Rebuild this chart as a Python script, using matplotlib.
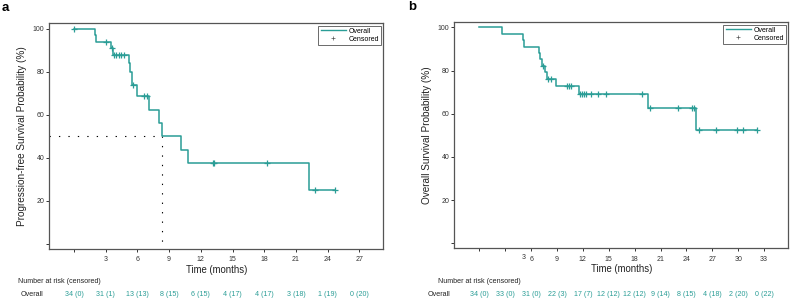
import numpy as np
import matplotlib
matplotlib.use("Agg")
import matplotlib.pyplot as plt
from matplotlib.lines import Line2D
from matplotlib.transforms import blended_transform_factory

plt.rcParams['font.family'] = ['Liberation Sans', 'DejaVu Sans']

TEAL = '#2a9d96'

# ---------------- Panel a: progression-free survival ----------------
a_times = [0, 1.96, 2.05, 3.53, 3.65, 5.23, 5.30, 5.45, 5.50, 5.93, 7.13, 8.07, 8.36, 10.12, 10.80, 22.20]
a_surv = [100, 97.0, 94.0, 90.9, 87.7, 84.0, 80.0, 77.0, 73.9, 68.8, 62.3, 56.4, 50.0, 43.7, 37.5, 25.0]
a_end = 24.7
a_cens = [0.0, 3.0, 3.62, 3.75, 3.95, 4.30, 4.45, 4.70, 5.55, 6.62, 6.88, 13.15, 13.25, 18.3, 22.8, 24.7]
a_median = 8.36
a_risk_times = [0, 3, 6, 9, 12, 15, 18, 21, 24, 27]
a_risk = ["34 (0)", "31 (1)", "13 (13)", "8 (15)", "6 (15)", "4 (17)", "4 (17)", "3 (18)", "1 (19)", "0 (20)"]
a_xticks = [0, 3, 6, 9, 12, 15, 18, 21, 24, 27]
a_xticklabels = ["", "3", "6", "9", "12", "15", "18", "21", "24", "27"]

# ---------------- Panel b: overall survival ----------------
b_times = [0, 2.59, 5.10, 5.20, 6.91, 7.00, 7.30, 7.60, 7.87, 8.85, 11.58, 19.60, 25.13]
b_surv = [100, 97.06, 94.12, 91.18, 88.24, 85.29, 82.35, 79.30, 76.25, 72.93, 69.09, 62.81, 52.34]
b_end = 32.2
b_cens = [7.41, 7.92, 8.27, 10.16, 10.42, 10.65, 11.66, 11.93, 12.16, 12.36, 12.90, 13.78, 14.67,
          18.84, 19.77, 22.97, 24.67, 24.86, 25.48, 27.38, 29.80, 30.57, 32.20]
b_risk_times = [0, 3, 6, 9, 12, 15, 18, 21, 24, 27, 30, 33]
b_risk = ["34 (0)", "33 (0)", "31 (0)", "22 (3)", "17 (7)", "12 (12)", "12 (12)", "9 (14)",
          "8 (15)", "4 (18)", "2 (20)", "0 (22)"]
b_xticks = [0, 3, 6, 9, 12, 15, 18, 21, 24, 27, 30, 33]
b_xticklabels = ["", "", "6", "9", "12", "15", "18", "21", "24", "27", "30", "33"]

yticks = [0, 20, 40, 60, 80, 100]
yticklabels = ["", "20", "40", "60", "80", "100"]

W, H = 790, 300
fig = plt.figure(figsize=(W / 100, H / 100), dpi=100)

TXT = '#222222'
TICK_FS = 5.0
RISK_FS = 5.1
LABEL_FS = 6.6


def fx(px):
    return px / W


def fy(py):
    return 1 - py / H


def step_level(times, surv, t):
    idx = np.searchsorted(np.asarray(times), t, side='right') - 1
    return np.asarray(surv)[idx]


def draw_panel(rect, times, surv, end, cens, xlim, ylim, xticks, xticklabels, ylabel):
    ax = fig.add_axes(rect)
    tt = list(times) + [end]
    ss = list(surv) + [surv[-1]]
    ax.step(tt, ss, where='post', color=TEAL, lw=1.1, zorder=3)
    cs = [step_level(times, surv, t) for t in cens]
    ax.plot(cens, cs, linestyle='none', marker='+', color=TEAL, ms=5, mew=0.9, zorder=4)
    ax.set_xlim(*xlim)
    ax.set_ylim(*ylim)
    ax.set_xticks(xticks)
    ax.set_xticklabels(xticklabels)
    ax.set_yticks(yticks)
    ax.set_yticklabels(yticklabels)
    ax.tick_params(axis='both', labelsize=TICK_FS, length=2.2, width=0.7, colors='#333333')
    ax.tick_params(axis='x', pad=3.0)
    ax.tick_params(axis='y', pad=1.5)
    for sp in ax.spines.values():
        sp.set_color('#555555')
        sp.set_linewidth(0.9)
    ax.set_ylabel(ylabel, fontsize=7.2, color=TXT, va='center')
    ax.yaxis.set_label_coords(-0.082, 0.5)
    ax.set_xlabel("Time (months)", fontsize=LABEL_FS + 0.3, color=TXT, va='center')
    ax.xaxis.set_label_coords(0.5, -0.093)
    handles = [Line2D([], [], color=TEAL, lw=1.0),
               Line2D([], [], color='#555555', lw=0, marker='+', ms=2.5, mew=0.5)]
    leg = ax.legend(handles, ["Overall", "Censored"], loc='upper right', fontsize=5.0,
                    frameon=True, fancybox=False, edgecolor='#444444', handlelength=3.6,
                    borderpad=0.3, labelspacing=0.1, handletextpad=0.4,
                    borderaxespad=0.35)
    leg.get_frame().set_linewidth(0.7)
    return ax


ax_a = draw_panel([fx(49.3), fy(249), fx(383.3) - fx(49.3), fy(23.3) - fy(249)],
                  a_times, a_surv, a_end, a_cens, (-2.34, 29.27), (-2.32, 102.5),
                  a_xticks, a_xticklabels, "Progression-free Survival Probability (%)")
ax_b = draw_panel([fx(454.3), fy(248.3), fx(788.3) - fx(454.3), fy(22.3) - fy(248.3)],
                  b_times, b_surv, b_end, b_cens, (-2.9, 35.8), (-2.3, 102.4),
                  b_xticks, b_xticklabels, "Overall Survival Probability (%)")

# median lines for panel a
dot_kw = dict(color='black', lw=0.8, dashes=(1.2, 7.3), zorder=2)
ax_a.plot([-2.34, a_median], [50, 50], **dot_kw)
ax_a.plot([a_median, a_median], [50, 0.5], **dot_kw)

# stray "3" tick label in panel b
tb = blended_transform_factory(ax_b.transData, fig.transFigure)
ax_b.text(5.15, fy(257.3), "3", transform=tb, fontsize=TICK_FS, color='#333333',
          ha='center', va='center')

# risk tables
fig.text(fx(18), fy(281.7), "Number at risk (censored)", fontsize=RISK_FS, color=TXT,
         ha='left', va='center')
fig.text(fx(21), fy(295), "Overall", fontsize=RISK_FS, color=TXT, ha='left', va='center')
fig.text(fx(437.7), fy(281.2), "Number at risk (censored)", fontsize=RISK_FS, color=TXT,
         ha='left', va='center')
fig.text(fx(427.3), fy(295), "Overall", fontsize=RISK_FS, color=TXT, ha='left', va='center')

ta = blended_transform_factory(ax_a.transData, fig.transFigure)
for t, s in zip(a_risk_times, a_risk):
    ax_a.text(t, fy(295), s, transform=ta, fontsize=RISK_FS, color=TEAL, ha='center',
              va='center', clip_on=False)
for t, s in zip(b_risk_times, b_risk):
    ax_b.text(t, fy(295), s, transform=tb, fontsize=RISK_FS, color=TEAL, ha='center',
              va='center', clip_on=False)

# panel letters
fig.text(fx(2), fy(8), "a", fontsize=9.5, fontweight='bold', ha='left', va='center')
fig.text(fx(408), fy(7), "b", fontsize=9.5, fontweight='bold', ha='left', va='center')

fig.savefig("out.png", dpi=100)
